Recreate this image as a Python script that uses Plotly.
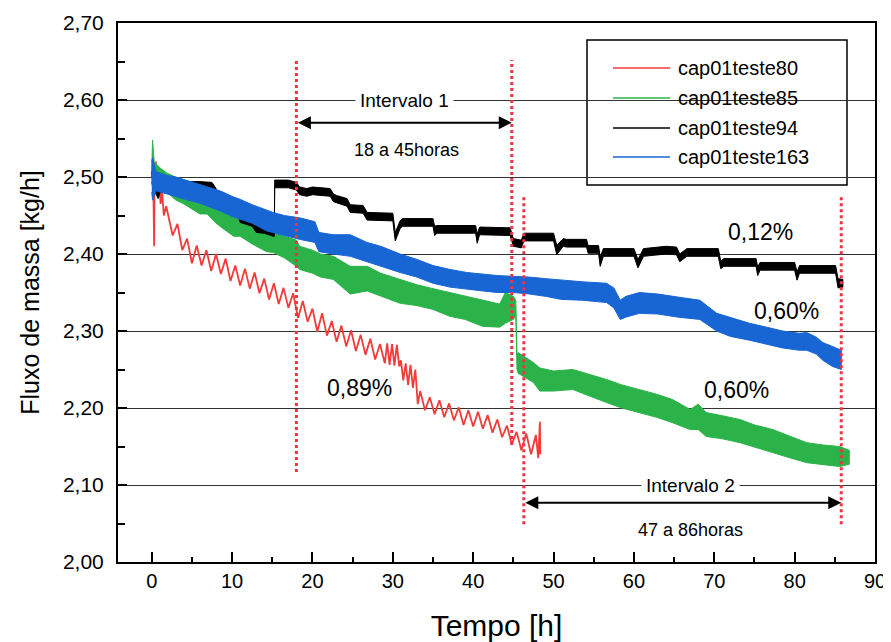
import plotly.graph_objects as go

# ---------------- data ----------------
series_names = ["cap01teste80", "cap01teste85", "cap01teste94", "cap01teste163"]
series_colors = ["#f23b3b", "#2bb34a", "#000000", "#1766d4"]

# red: zig-zag peaks / troughs
red_t = [0.0, 0.15, 0.3, 0.35, 0.5, 0.7, 0.9, 1.1, 1.3, 1.5, 1.8,
         2.0, 2.6, 3.2, 3.8, 4.4, 5.0, 5.6, 6.2, 6.8, 7.4, 8.0, 8.6, 9.2, 9.8,
         10.4, 11.0, 11.6, 12.2, 12.8, 13.4, 14.0, 14.6, 15.2, 15.8, 16.4, 17.0,
         17.6, 18.2, 18.8, 19.4, 20.0, 20.6, 21.2, 21.8, 22.4, 23.0, 23.6, 24.2,
         24.8, 25.4, 26.0, 26.6, 27.2, 27.8, 28.4, 29.0, 29.3, 29.6, 29.9, 30.2,
         30.5, 30.8, 31.0, 31.3, 31.6, 31.9, 32.2, 32.5, 32.8, 33.1, 33.4, 34.0,
         34.6, 35.2, 35.8, 36.4, 37.0, 37.6, 38.2, 38.8, 39.4, 40.0, 40.6, 41.2,
         41.8, 42.4, 43.0, 43.6, 44.2, 44.8, 45.4, 46.0, 46.6, 47.2, 47.8, 48.1,
         48.3, 48.35]
red_v = [2.500, 2.525, 2.410, 2.510, 2.520, 2.490, 2.500, 2.465, 2.480, 2.450, 2.462,
         2.452, 2.424, 2.439, 2.405, 2.420, 2.388, 2.411, 2.385, 2.405, 2.378, 2.400,
         2.374, 2.394, 2.365, 2.385, 2.359, 2.381, 2.355, 2.376, 2.349, 2.368, 2.341,
         2.362, 2.335, 2.356, 2.330, 2.349, 2.317, 2.339, 2.312, 2.329, 2.299, 2.323,
         2.294, 2.313, 2.286, 2.307, 2.280, 2.301, 2.274, 2.295, 2.269, 2.290, 2.263,
         2.283, 2.258, 2.284, 2.256, 2.283, 2.255, 2.282, 2.254, 2.262, 2.236, 2.258,
         2.230, 2.256, 2.226, 2.250, 2.205, 2.222, 2.197, 2.214, 2.192, 2.210, 2.188,
         2.206, 2.184, 2.201, 2.178, 2.197, 2.176, 2.195, 2.173, 2.191, 2.168, 2.185,
         2.162, 2.177, 2.153, 2.169, 2.145, 2.167, 2.140, 2.165, 2.135, 2.182, 2.140]

# green: lower / upper envelope of the noisy trace
green_t = [0.0, 0.1, 0.3, 1.0, 1.9, 3.0, 4.0, 6.0, 6.9, 8.0, 9.0, 10.2, 11.0, 12.5,
           14.3, 15.1, 16.5, 18.0, 18.4, 20.0, 21.0, 22.6, 24.7, 26.8, 28.5, 30.9,
           33.0, 35.0, 37.1, 39.0, 41.2, 43.3, 44.0, 45.0, 45.3, 45.45, 45.6, 47.5,
           48.3, 50.0, 52.4, 54.5, 56.6, 58.5, 60.7, 62.8, 64.8, 66.0, 67.0, 68.0,
           69.0, 71.0, 73.2, 75.0, 77.3, 79.5, 81.5, 83.5, 85.6, 86.8]
green_lo = [2.490, 2.490, 2.485, 2.488, 2.480, 2.470, 2.465, 2.452, 2.452, 2.440, 2.432,
            2.423, 2.423, 2.413, 2.403, 2.402, 2.395, 2.384, 2.380, 2.375, 2.370, 2.367,
            2.348, 2.352, 2.345, 2.336, 2.333, 2.328, 2.319, 2.315, 2.306, 2.305, 2.310,
            2.315, 2.320, 2.250, 2.245, 2.233, 2.222, 2.222, 2.224, 2.215, 2.207, 2.200,
            2.194, 2.188, 2.181, 2.176, 2.172, 2.172, 2.163, 2.160, 2.155, 2.150, 2.142,
            2.135, 2.129, 2.127, 2.124, 2.127]
green_hi = [2.510, 2.548, 2.520, 2.512, 2.505, 2.500, 2.495, 2.482, 2.484, 2.475, 2.467,
            2.455, 2.454, 2.440, 2.430, 2.428, 2.423, 2.418, 2.410, 2.405, 2.400, 2.397,
            2.384, 2.384, 2.375, 2.367, 2.360, 2.355, 2.350, 2.345, 2.340, 2.335, 2.350,
            2.345, 2.340, 2.270, 2.272, 2.259, 2.252, 2.248, 2.250, 2.244, 2.237, 2.230,
            2.224, 2.218, 2.211, 2.204, 2.198, 2.205, 2.194, 2.190, 2.185, 2.178, 2.172,
            2.163, 2.155, 2.152, 2.150, 2.145]

# black: lower / upper envelope
black_t = [0.0, 0.3, 0.8, 1.2, 2.0, 3.5, 4.4, 6.0, 7.5, 8.0, 8.5, 10.0, 10.8, 11.0,
           12.5, 13.0, 14.0, 15.1, 15.25, 15.3, 17.0, 18.0, 18.4, 19.3, 20.0, 22.2,
           22.6, 23.0, 24.3, 24.7, 26.3, 26.8, 30.0, 30.3, 30.9, 31.2, 35.0, 35.2,
           35.5, 40.3, 40.5, 40.8, 44.6, 45.0, 46.0, 46.3, 50.0, 50.4, 51.2, 51.6,
           54.1, 54.3, 55.6, 55.8, 56.2, 60.0, 60.5, 61.2, 64.0, 65.3, 65.7, 66.6,
           70.5, 70.8, 71.2, 75.2, 75.4, 75.7, 80.0, 80.3, 80.6, 85.1, 85.4, 86.0]
black_lo = [2.493, 2.483, 2.472, 2.484, 2.486, 2.486, 2.484, 2.484, 2.483, 2.475, 2.459,
            2.457, 2.448, 2.441, 2.436, 2.428, 2.427, 2.423, 2.423, 2.486, 2.486, 2.483,
            2.477, 2.475, 2.477, 2.475, 2.468, 2.466, 2.462, 2.454, 2.453, 2.444, 2.443,
            2.417, 2.433, 2.436, 2.436, 2.424, 2.427, 2.427, 2.414, 2.425, 2.424, 2.410,
            2.408, 2.417, 2.417, 2.399, 2.410, 2.409, 2.409, 2.401, 2.401, 2.384, 2.397,
            2.397, 2.382, 2.397, 2.400, 2.399, 2.390, 2.397, 2.397, 2.381, 2.384, 2.384,
            2.372, 2.379, 2.379, 2.366, 2.375, 2.375, 2.356, 2.357]
black_hi = [2.507, 2.497, 2.484, 2.494, 2.496, 2.496, 2.494, 2.494, 2.493, 2.485, 2.469,
            2.467, 2.458, 2.452, 2.446, 2.438, 2.437, 2.433, 2.433, 2.496, 2.496, 2.493,
            2.487, 2.485, 2.487, 2.485, 2.478, 2.476, 2.472, 2.464, 2.463, 2.454, 2.453,
            2.428, 2.443, 2.446, 2.446, 2.436, 2.437, 2.437, 2.426, 2.435, 2.434, 2.420,
            2.418, 2.427, 2.427, 2.411, 2.420, 2.419, 2.419, 2.411, 2.411, 2.396, 2.407,
            2.407, 2.393, 2.407, 2.410, 2.409, 2.400, 2.407, 2.407, 2.391, 2.394, 2.394,
            2.383, 2.389, 2.389, 2.377, 2.385, 2.385, 2.368, 2.367]

# blue: lower / upper envelope
blue_t = [0.0, 0.1, 0.5, 1.9, 3.0, 4.5, 6.0, 6.9, 8.5, 10.2, 11.0, 12.5, 14.3, 15.1,
          16.5, 18.4, 20.3, 20.8, 22.6, 24.7, 26.8, 28.5, 30.9, 33.0, 35.0, 37.1, 39.2,
          41.2, 43.0, 45.0, 47.0, 49.0, 51.0, 53.5, 56.6, 57.5, 58.3, 59.0, 60.7, 63.0,
          65.5, 68.2, 70.3, 72.0, 74.4, 76.5, 78.5, 80.6, 81.5, 82.7, 83.5, 84.7, 85.8]
blue_lo = [2.480, 2.470, 2.482, 2.478, 2.475, 2.470, 2.466, 2.462, 2.456, 2.448, 2.445,
           2.440, 2.430, 2.428, 2.424, 2.419, 2.415, 2.403, 2.400, 2.397, 2.390, 2.384,
           2.376, 2.370, 2.362, 2.357, 2.354, 2.352, 2.350, 2.350, 2.348, 2.345, 2.341,
           2.340, 2.337, 2.330, 2.315, 2.318, 2.323, 2.322, 2.318, 2.315, 2.300, 2.293,
           2.288, 2.283, 2.278, 2.275, 2.275, 2.270, 2.262, 2.254, 2.250]
blue_hi = [2.520, 2.525, 2.507, 2.502, 2.500, 2.495, 2.490, 2.488, 2.482, 2.474, 2.471,
           2.464, 2.457, 2.454, 2.450, 2.447, 2.442, 2.428, 2.425, 2.425, 2.415, 2.410,
           2.400, 2.393, 2.385, 2.380, 2.376, 2.374, 2.372, 2.371, 2.370, 2.368, 2.366,
           2.364, 2.362, 2.356, 2.340, 2.345, 2.350, 2.348, 2.344, 2.340, 2.323, 2.318,
           2.310, 2.305, 2.300, 2.297, 2.298, 2.292, 2.285, 2.280, 2.275]

# interval markers (hours) and annotation texts
interval_lines = [(18.0, 2.117, 2.652), (44.8, 2.152, 2.652),
                  (46.3, 2.049, 2.475), (85.8, 2.049, 2.475)]
interval1 = (18.0, 44.8)
interval2 = (46.3, 85.8)
pct_labels = ["0,89%", "0,60%", "0,12%", "0,60%"]
pct_pos = [(25.8, 2.226), (72.8, 2.224), (75.7, 2.428), (79.0, 2.326)]

FONT = "Liberation Sans, Arial, sans-serif"

# page geometry: the browser places the figure 8px from the top-left corner
OFF = 8
FIG_W, FIG_H = 891 - OFF, 642 - OFF
# plot area in screen pixels
L, R, T, B = 118, 875, 23, 562
W, H = R - L, B - T


def px(x):
    return (x - L) / W


def py(y):
    return (B - y) / H


fig = go.Figure()

fig.add_trace(go.Scatter(x=red_t, y=red_v, mode="lines",
                         line=dict(color=series_colors[0], width=1.8),
                         name=series_names[0], hoverinfo="skip"))


def band(t, lo, hi, color, name):
    return go.Scatter(x=list(t) + list(t)[::-1], y=list(hi) + list(lo)[::-1],
                      mode="lines", fill="toself", fillcolor=color,
                      line=dict(color=color, width=1), name=name,
                      hoverinfo="skip")


fig.add_trace(band(green_t, green_lo, green_hi, series_colors[1], series_names[1]))
fig.add_trace(band(black_t, black_lo, black_hi, series_colors[2], series_names[2]))
fig.add_trace(band(blue_t, blue_lo, blue_hi, series_colors[3], series_names[3]))

shapes = []
for (xv, y0, y1) in interval_lines:
    shapes.append(dict(type="line", xref="x", yref="y", x0=xv, x1=xv, y0=y0, y1=y1,
                       line=dict(color="#ee3344", width=3, dash="dot"), layer="above"))
# legend box (drawn by hand)
shapes.append(dict(type="rect", xref="paper", yref="paper", x0=px(587), x1=px(847),
                   y0=py(185), y1=py(40), fillcolor="white",
                   line=dict(color="black", width=1.5), layer="between"))
legend_rows = [68, 98, 128, 157]
annotations = []
for nm, col, yy in zip(series_names, series_colors, legend_rows):
    shapes.append(dict(type="line", xref="paper", yref="paper", x0=px(613), x1=px(670),
                       y0=py(yy), y1=py(yy), line=dict(color=col, width=1.5),
                       layer="above"))
    annotations.append(dict(x=px(676), y=py(yy), xref="paper", yref="paper", text=nm,
                            showarrow=False, xanchor="left", yanchor="middle",
                            font=dict(size=20, color="black", family=FONT)))

annotations += [
    dict(x=interval1[1], y=2.5705, ax=interval1[0], ay=2.5705, xref="x", yref="y",
         axref="x", ayref="y", text="", showarrow=True, arrowhead=2, arrowside="end+start",
         arrowsize=1.3, arrowwidth=2, arrowcolor="black"),
    dict(x=interval2[1], y=2.077, ax=interval2[0], ay=2.077, xref="x", yref="y",
         axref="x", ayref="y", text="", showarrow=True, arrowhead=2, arrowside="end+start",
         arrowsize=1.3, arrowwidth=2, arrowcolor="black"),
    dict(x=31.5, y=2.60, text="Intervalo 1", showarrow=False, bgcolor="white",
         borderpad=4, font=dict(size=19, color="black", family=FONT)),
    dict(x=31.7, y=2.535, text="18 a 45horas", showarrow=False,
         font=dict(size=18, color="black", family=FONT)),
    dict(x=67.0, y=2.10, text="Intervalo 2", showarrow=False, bgcolor="white",
         borderpad=4, font=dict(size=19, color="black", family=FONT)),
    dict(x=67.0, y=2.042, text="47 a 86horas", showarrow=False,
         font=dict(size=18, color="black", family=FONT)),
]
for txt, (xx, yy) in zip(pct_labels, pct_pos):
    annotations.append(dict(x=xx, y=yy, text=txt, showarrow=False,
                            font=dict(size=23, color="black", family=FONT)))

fig.update_layout(
    width=FIG_W, height=FIG_H,
    margin=dict(l=L - OFF, r=FIG_W - (R - OFF), t=T - OFF, b=FIG_H - (B - OFF),
                autoexpand=False),
    paper_bgcolor="white", plot_bgcolor="white",
    separators=",.",
    font=dict(family=FONT, color="black"),
    shapes=shapes, annotations=annotations,
    showlegend=False,
    xaxis=dict(range=[-4.2, 90], dtick=10, tick0=0, showgrid=False, zeroline=False,
               showline=True, linecolor="black", linewidth=2, mirror=True,
               ticks="inside", ticklen=10, tickwidth=2, tickcolor="black",
               minor=dict(dtick=5, ticks="inside", ticklen=5, tickwidth=2,
                          tickcolor="black", showgrid=False),
               tickfont=dict(size=20, family=FONT), automargin=False,
               title=dict(text="Tempo [h]", font=dict(size=30, family=FONT),
                          standoff=24)),
    yaxis=dict(range=[2.0, 2.7], dtick=0.1, tick0=2.0, tickformat=".2f",
               showgrid=True, gridcolor="#333333", gridwidth=1, zeroline=False,
               showline=True, linecolor="black", linewidth=2, mirror=True,
               ticks="inside", ticklen=9, tickwidth=2, tickcolor="black",
               minor=dict(dtick=0.05, ticks="inside", ticklen=7, tickwidth=2,
                          tickcolor="black", showgrid=False),
               tickfont=dict(size=21, family=FONT), automargin=False,
               ticklabelstandoff=8,
               title=dict(text="Fluxo de massa [kg/h]", font=dict(size=25, family=FONT),
                          standoff=16)),
)

fig.write_html("out.html")
